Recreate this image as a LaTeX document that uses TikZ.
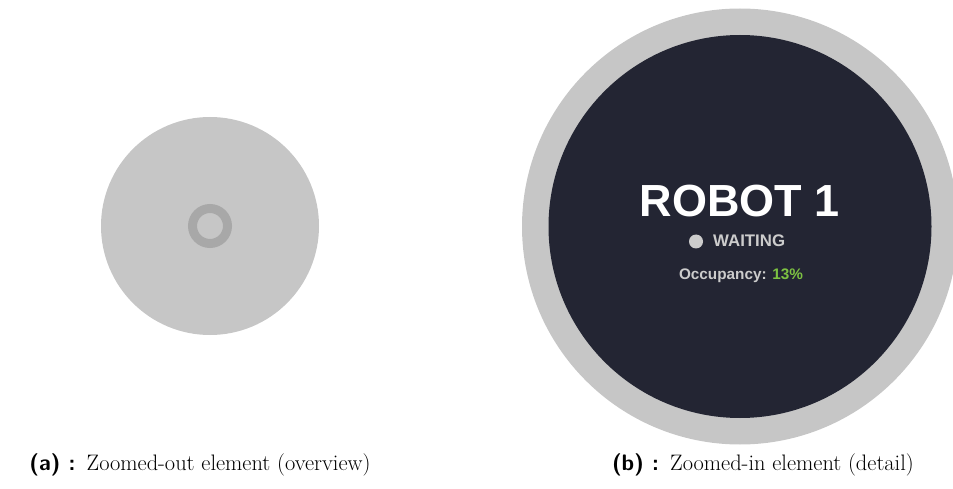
\documentclass[tikz,border=0pt]{standalone}
\usepackage{fontspec}
\newfontfamily\uifont{Liberation Sans}
\definecolor{lightdisc}{HTML}{C6C6C6}
\definecolor{ringgray}{HTML}{A8A8A8}
\definecolor{darkdisc}{HTML}{232533}
\definecolor{softtext}{HTML}{CCCCCC}
\definecolor{okgreen}{HTML}{7DC242}
\tikzset{
  disc/.style={circle, fill=#1, draw=none, inner sep=0pt},
  captiontext/.style={anchor=base, inner sep=0pt, font=\fontsize{22.4}{26}\selectfont},
  sublabel/.style={font=\sffamily\bfseries}
}
\begin{document}
\begin{tikzpicture}[x=1pt,y=1pt]
\useasboundingbox (0,0) rectangle (953,488);
% left: zoomed-out element
\node[disc=lightdisc, minimum size=218pt] (smalldisc) at (210,262) {};
\draw[ringgray, line width=9pt] (smalldisc.center) circle[radius=17.5pt];
% right: zoomed-in element
\node[disc=lightdisc, minimum size=436pt] (bigdisc) at (740,261.5) {};
\node[disc=darkdisc, minimum size=383pt] (inner) at (bigdisc.center) {};
\node[anchor=base, inner sep=0pt, text=white, font=\uifont\bfseries\fontsize{45}{50}\selectfont] (title) at (740,271) {ROBOT 1};
\node[disc=softtext, minimum size=14pt] (dot) at (696,246.5) {};
\node[anchor=base west, inner sep=0pt, text=softtext, font=\uifont\bfseries\fontsize{16.8}{20}\selectfont] (status) at (713,241) {WAITING};
\node[anchor=base, inner sep=0pt, text=softtext, font=\uifont\bfseries\fontsize{15.3}{18}\selectfont] (occ) at (741,208) {Occupancy: \textcolor{okgreen}{13\%}};
% captions
\node[captiontext] (capa) at (200,18) {{\sffamily\bfseries (a) :}\enspace Zoomed-out element (overview)};
\node[captiontext] (capb) at (763,18) {{\sffamily\bfseries (b) :}\enspace Zoomed-in element (detail)};
\end{tikzpicture}
\end{document}
